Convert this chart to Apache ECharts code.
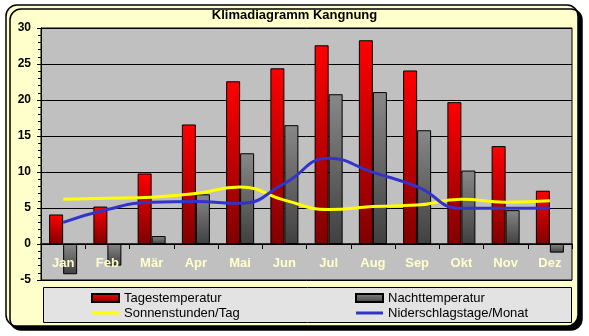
<!DOCTYPE html>
<html>
<head>
<meta charset="utf-8">
<script src="https://cdn.jsdelivr.net/npm/echarts@6/dist/echarts.min.js"></script>
<style>
html,body{margin:0;padding:0;background:#fff;}
#c{width:589px;height:336px;}
</style>
</head>
<body>
<div id="c"></div>
<script>
const months = ['Jan','Feb','Mär','Apr','Mai','Jun','Jul','Aug','Sep','Okt','Nov','Dez'];
const tagesTemp = [4.1,5.2,9.8,16.6,22.6,24.4,27.6,28.3,24.1,19.7,13.6,7.4];
const nachtTemp = [-4.2,-3.0,1.1,6.9,12.6,16.5,20.8,21.1,15.8,10.2,4.7,-1.2];
const sonnenstunden = [6.2,6.35,6.5,7.0,7.9,6.1,4.8,5.2,5.4,6.2,5.8,6.0];
const niederschlag = [3.0,4.8,5.8,5.9,5.65,8.4,11.9,9.95,7.96,4.95,4.95,5.0];
const yTicks = {min:-5, max:30, interval:5};

const FONT = '"Liberation Sans", Arial, sans-serif';
const redGrad = {type:'linear',x:0,y:0,x2:0,y2:1,colorStops:[{offset:0,color:'#FF0000'},{offset:1,color:'#800000'}]};
const grayGrad = {type:'linear',x:0,y:0,x2:0,y2:1,colorStops:[{offset:0,color:'#888888'},{offset:1,color:'#404040'}]};
const lineIcon = 'path://M0,0H27V3H0Z';

const chart = echarts.init(document.getElementById('c'), null, {renderer:'canvas'});
chart.setOption({
  backgroundColor:'#ffffff',
  animation:false,
  title:{
    text:'Klimadiagramm Kangnung', left:'center', top:9, padding:0,
    textStyle:{fontFamily:FONT, fontSize:13, fontWeight:'bold', color:'#000'}
  },
  graphic:[
    {type:'rect', z:-10, shape:{x:6,y:5,width:572,height:321,r:11},
     style:{fill:'#FFFFCC', stroke:'#000', lineWidth:1.5, shadowColor:'#000', shadowBlur:0, shadowOffsetX:4, shadowOffsetY:4}},
    {type:'rect', z:-5, shape:{x:43.5,y:287.5,width:528,height:35},
     style:{fill:'#E3E3E3', stroke:'#000', lineWidth:1}}
  ],
  grid:{left:41, right:17, top:28, bottom:56, show:true, backgroundColor:'#C0C0C0', borderColor:'#000', borderWidth:1},
  legend:[
    {orient:'vertical', left:91, top:291, itemWidth:27, itemHeight:8, itemGap:1, padding:0,
     data:[{name:'Tagestemperatur', icon:'rect'},
           {name:'Sonnenstunden/Tag', icon:lineIcon, itemStyle:{color:'#FFFF00', borderWidth:0}}],
     textStyle:{fontFamily:FONT, fontSize:13, color:'#000', lineHeight:14}},
    {orient:'vertical', left:355, top:291, itemWidth:27, itemHeight:8, itemGap:1, padding:0,
     data:[{name:'Nachttemperatur', icon:'rect'},
           {name:'Niderschlagstage/Monat', icon:lineIcon, itemStyle:{color:'#3333CC', borderWidth:0}}],
     textStyle:{fontFamily:FONT, fontSize:13, color:'#000', lineHeight:14}}
  ],
  xAxis:{
    type:'category', data:months, boundaryGap:true, z:6,
    axisLine:{onZero:true, lineStyle:{color:'#000', width:1.5}},
    axisTick:{show:true, length:5, lineStyle:{color:'#000'}},
    axisLabel:{color:'#FFFFCC', fontFamily:FONT, fontSize:13, fontWeight:'bold', margin:-23}
  },
  yAxis:{
    type:'value', min:yTicks.min, max:yTicks.max, interval:yTicks.interval,
    axisLine:{show:true, lineStyle:{color:'#000'}},
    axisTick:{show:true, length:4, lineStyle:{color:'#000'}},
    minorTick:{show:true, splitNumber:5, length:3, lineStyle:{color:'#000'}},
    splitLine:{show:true, lineStyle:{color:'#000', width:1}},
    axisLabel:{color:'#000', fontFamily:FONT, fontSize:12, fontWeight:'bold', margin:10}
  },
  series:[
    {name:'Tagestemperatur', type:'bar', data:tagesTemp, barWidth:14, barGap:'0%', z:2,
     itemStyle:{color:redGrad, borderColor:'#000', borderWidth:1}},
    {name:'Nachttemperatur', type:'bar', data:nachtTemp, barWidth:14, barGap:'0%', z:2,
     itemStyle:{color:grayGrad, borderColor:'#000', borderWidth:1}},
    {name:'Sonnenstunden/Tag', type:'line', data:sonnenstunden, smooth:true, symbol:'none', z:3,
     lineStyle:{color:'#FFFF00', width:3}, itemStyle:{color:'#FFFF00'}},
    {name:'Niderschlagstage/Monat', type:'line', data:niederschlag, smooth:true, symbol:'none', z:4,
     lineStyle:{color:'#3333CC', width:3}, itemStyle:{color:'#3333CC'}}
  ]
});
</script>
</body>
</html>
